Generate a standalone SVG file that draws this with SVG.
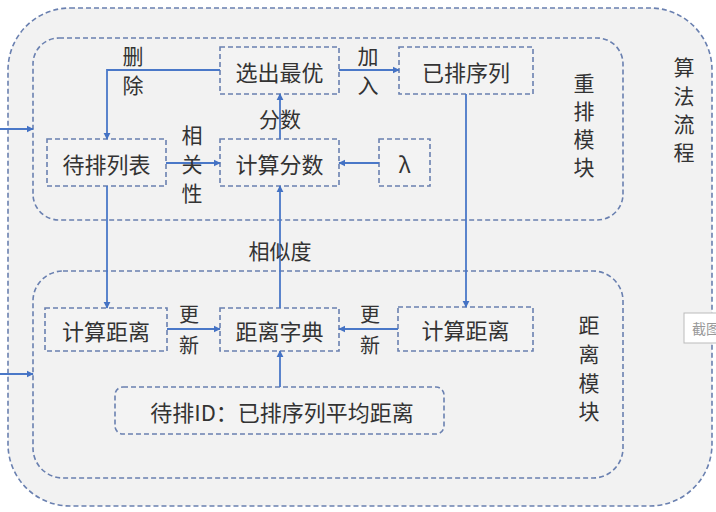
<svg xmlns="http://www.w3.org/2000/svg" width="716" height="512" viewBox="0 0 716 512">
<defs>
<marker id="ah" viewBox="0 0 10 10" refX="9" refY="5" markerWidth="4" markerHeight="4" orient="auto"><path d="M0,0 L10,5 L0,10 z" fill="#4472c4"/></marker>
<style>
.d{fill:none;stroke:#6a80b0;stroke-width:1.6;stroke-dasharray:5 3}
.n{fill:#f3f3f3;stroke:#6a80b0;stroke-width:1.6;stroke-dasharray:5 3}
.c{fill:none;stroke:#4a78c8;stroke-width:1.8;marker-end:url(#ah)}
text{font-family:"Noto Sans CJK SC","Noto Sans",sans-serif;font-size:21px;fill:#333;text-anchor:middle;dominant-baseline:central}
.b{font-size:22px}
</style>
</defs>
<rect width="716" height="512" fill="#fff"/>
<rect id="outer" x="8" y="8" width="704" height="498" rx="62" fill="#f2f2f2" stroke="#6a80b0" stroke-width="1.6" stroke-dasharray="5 3"/>
<g id="rerank-module"><rect class="d" x="33" y="38" width="590" height="182" rx="26"/>
<text x="584" y="82">重</text><text x="584" y="110">排</text><text x="584" y="138">模</text><text x="584" y="166">块</text></g>
<g id="distance-module"><rect class="d" x="33" y="271" width="590" height="207" rx="30"/>
<text x="589" y="324">距</text><text x="589" y="353">离</text><text x="589" y="382">模</text><text x="589" y="410">块</text></g>
<g id="algo-label"><text x="684" y="66">算</text><text x="684" y="95">法</text><text x="684" y="123">流</text><text x="684" y="151">程</text></g>
<g id="select-best"><rect class="n" x="220" y="47" width="119" height="47"/><text class="b" x="279.5" y="70.5">选出最优</text></g>
<g id="sorted-seq"><rect class="n" x="399" y="47" width="134" height="47"/><text class="b" x="466" y="70.5">已排序列</text></g>
<g id="pending-list"><rect class="n" x="47" y="139" width="119" height="47"/><text class="b" x="106.5" y="162.5">待排列表</text></g>
<g id="calc-score"><rect class="n" x="220" y="139" width="119" height="47"/><text class="b" x="279.5" y="162.5">计算分数</text></g>
<g id="lambda"><rect class="n" x="379" y="139" width="51" height="47"/><text class="b" x="404.5" y="162.5">λ</text></g>
<g id="calc-dist-left"><rect class="n" x="45" y="308" width="122" height="43"/><text class="b" x="106" y="329.5">计算距离</text></g>
<g id="dist-dict"><rect class="n" x="220" y="308" width="119" height="43"/><text class="b" x="279.5" y="329.5">距离字典</text></g>
<g id="calc-dist-right"><rect class="n" x="398" y="307" width="135" height="44"/><text class="b" x="465.5" y="329">计算距离</text></g>
<g id="avg-dist"><rect class="n" x="115" y="387" width="329" height="47" rx="8"/><text class="b" x="282" y="410.5">待排ID：已排序列平均距离</text></g>
<g id="screenshot-tab"><rect x="684" y="313" width="40" height="30" fill="#fff" stroke="#bbb" stroke-width="1"/><text x="706" y="328" style="font-size:14px;fill:#999">截图</text></g>
<g id="connectors">
<path class="c" d="M220,70 H107 V139"/>
<path class="c" d="M339,70 H399"/>
<path class="c" d="M280,139 V94"/>
<path class="c" d="M166,163 H220"/>
<path class="c" d="M379,163 H339"/>
<path class="c" d="M280,308 V186"/>
<path class="c" d="M107,186 V308"/>
<path class="c" d="M466,94 V307"/>
<path class="c" d="M167,329 H220"/>
<path class="c" d="M398,329 H339"/>
<path class="c" d="M280,387 V351"/>
<path class="c" d="M0,129 H33"/>
<path class="c" d="M0,374 H33"/>
</g>
<g id="labels">
<text x="133" y="55">删</text><text x="133" y="84">除</text>
<text x="368" y="55">加</text><text x="368" y="84">入</text>
<text x="280" y="118">分数</text>
<text x="192" y="134">相</text><text x="192" y="163">关</text><text x="192" y="192">性</text>
<text x="280" y="250">相似度</text>
<text x="189" y="313" style="font-size:20px">更</text><text x="189" y="344" style="font-size:20px">新</text>
<text x="370" y="313" style="font-size:20px">更</text><text x="370" y="344" style="font-size:20px">新</text>
</g>
</svg>
